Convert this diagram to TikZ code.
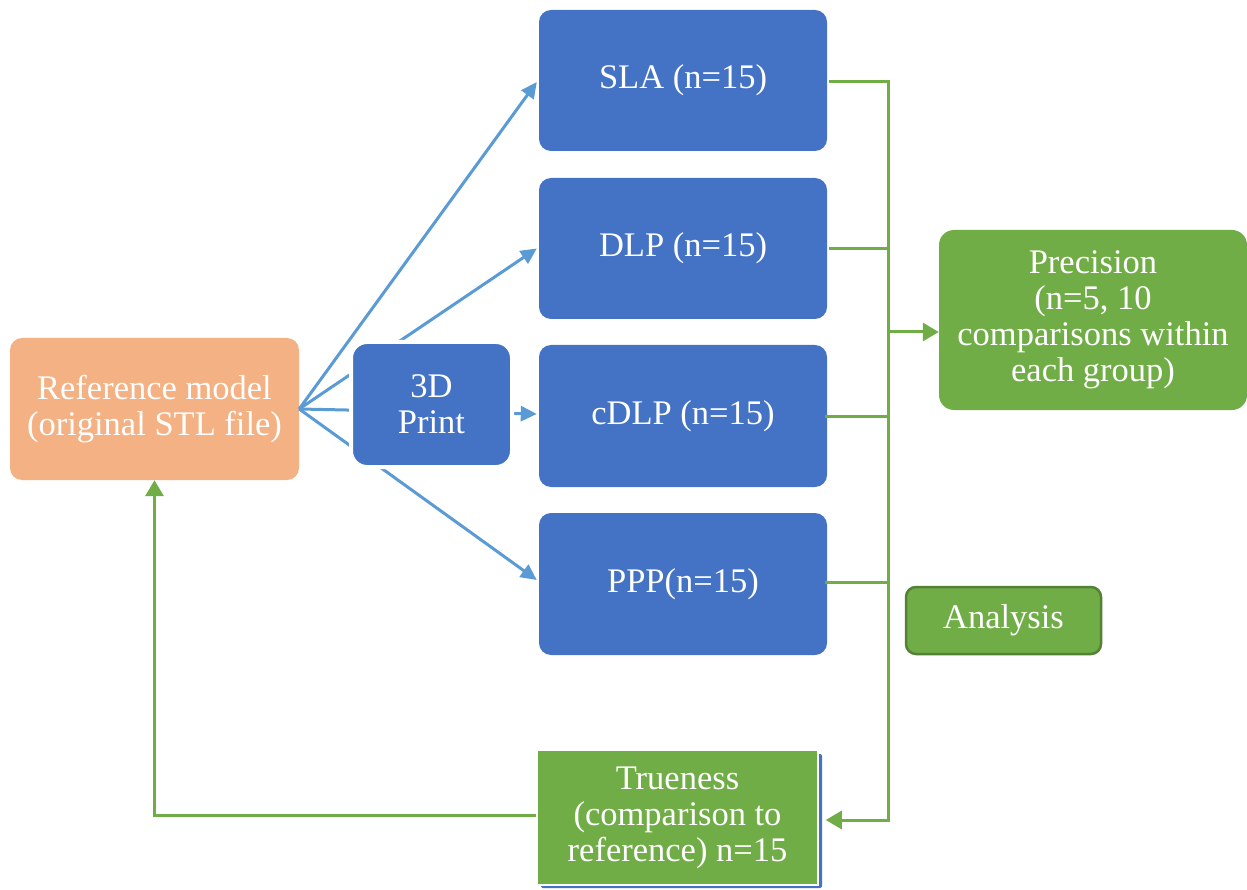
\documentclass[tikz,border=0pt]{standalone}
\usepackage{fontspec}
\setmainfont{Liberation Serif}
\usetikzlibrary{arrows.meta}
\definecolor{boxblue}{HTML}{4472C4}
\definecolor{arrblue}{HTML}{5B9BD5}
\definecolor{refor}{HTML}{F4B183}
\definecolor{grn}{HTML}{70AD47}
\definecolor{dgrn}{HTML}{548235}
\tikzset{
  x=1pt, y=-1pt,
  box/.style={text=white, align=center, inner sep=0pt,
    font=\fontsize{34.5}{36}\selectfont},
  bluebox/.style={box, fill=boxblue, rounded corners=12pt, minimum width=288pt, minimum height=141pt},
  barrow/.style={draw=arrblue, line width=3pt, -{Triangle[length=16pt,width=15pt]}},
  gline/.style={draw=grn, line width=3pt},
  garrow/.style={gline, -{Triangle[length=16pt,width=18pt]}},
}
\begin{document}
\begin{tikzpicture}
\useasboundingbox (0,0) rectangle (1247,890);
\node[box, fill=refor, rounded corners=12pt, minimum width=289pt, minimum height=142pt] (ref) at (154.5,409) {Reference model\\(original STL file)};
\node[bluebox] (sla) at (683,80.5) {SLA (n=15)};
\node[bluebox] (dlp) at (683,248.5) {DLP (n=15)};
\node[bluebox, minimum height=142pt] (cdlp) at (683,416) {cDLP (n=15)};
\node[bluebox, minimum height=142pt] (ppp) at (683,584) {PPP(n=15)};
% blue connectors
\draw[barrow] (ref.east) -- ([xshift=-2pt,yshift=-1.5pt]sla.west);
\draw[barrow] (ref.east) -- ([xshift=-2pt]dlp.west);
\draw[barrow] (ref.east) -- ([xshift=-2pt,yshift=2pt]cdlp.west);
\draw[barrow] (ref.east) -- ([xshift=-2pt,yshift=4pt]ppp.west);
\node[box, fill=boxblue, draw=white, line width=4pt, rounded corners=16pt, minimum width=161pt, minimum height=125pt] (print) at (431.5,404.5) {3D\\Print};
% result boxes
\node[box, fill=grn, rounded corners=15pt, minimum width=308pt, minimum height=180pt] (prec) at (1093,320) {Precision\\(n=5, 10\\comparisons within\\each group)};
\node[box, fill=grn, draw=dgrn, line width=2.5pt, rounded corners=10pt, minimum width=195pt, minimum height=67pt] (ana) at (1003.5,620.5) {Analysis};
\fill[boxblue, rounded corners=2pt] (541,754) rectangle (822,888);
\node[box, fill=grn, draw=white, line width=1.5pt, minimum width=281pt, minimum height=135pt] (true) at (677.5,817.5) {Trueness\\(comparison to\\reference) n=15};
% green connectors
\coordinate (bt) at (888,82);
\coordinate (bb) at (888,820);
\draw[gline] ([yshift=1.5pt]bt) -- ([yshift=-1.5pt]bb);
\draw[gline] ([xshift=2pt,yshift=-1.5pt]sla.east) -- (bt);
\draw[gline] ([xshift=2pt]dlp.east) -- (dlp.east -| bt);
\draw[gline] ([xshift=-2pt]cdlp.east) -- (cdlp.east -| bt);
\draw[gline] ([xshift=-2pt,yshift=2pt]ppp.east) -- ([yshift=2pt]ppp.east -| bt);
\draw[garrow] ([yshift=-12pt]prec.west -| bt) -- ([yshift=-12pt]prec.west);
\draw[garrow] (bb) -- ([xshift=7pt]true.east |- bb);
\draw[garrow] ([yshift=2.5pt]true.west) -| (ref.south);
\end{tikzpicture}
\end{document}
